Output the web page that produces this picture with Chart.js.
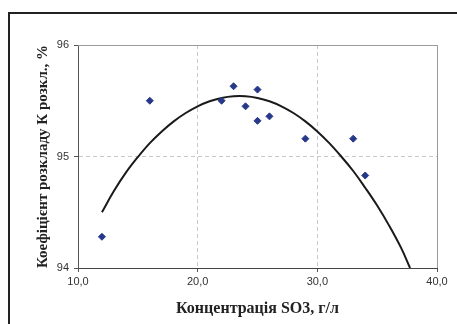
<!DOCTYPE html>
<html>
<head>
<meta charset="utf-8">
<script src="https://cdn.jsdelivr.net/npm/chart.js@4/dist/chart.umd.min.js"></script>
<style>
  html, body { margin: 0; padding: 0; background: #fff; }
  #wrap { position: relative; width: 457px; height: 324px; overflow: hidden; }
  #frame {
    position: absolute; left: 8px; top: 12px; width: 600px; height: 400px;
    border-left: 2px solid #222; border-top: 2px solid #222; pointer-events: none;
  }
  canvas { position: absolute; left: 0; top: 0; }
</style>
</head>
<body>
<div id="wrap">
  <canvas id="chart" width="457" height="324"></canvas>
  <div id="frame"></div>
</div>
<script>
// measured points
const concX = [12, 16, 22, 23, 24, 25, 25, 26, 29, 33, 34];
const coefY = [94.28, 95.50, 95.50, 95.63, 95.45, 95.60, 95.32, 95.36, 95.16, 95.16, 94.83];

// trend line
const trendX = [12, 13, 14, 15, 16, 17, 18, 19, 20, 21, 22, 23, 24, 25, 26, 27, 28, 29, 30, 31, 32, 33, 34, 35, 36, 37, 37.75];
const trendY = [94.50, 94.69, 94.855, 94.995, 95.12, 95.225, 95.315, 95.39, 95.45, 95.495, 95.525, 95.54, 95.54, 95.525, 95.495, 95.45, 95.39, 95.315, 95.225, 95.12, 95.00, 94.87, 94.72, 94.56, 94.38, 94.18, 94.00];

const xTicks = [10, 20, 30, 40];
const yTicks = [94, 95, 96];

const labelFont = { family: 'Liberation Sans', size: 11 };
const xTitleFont = { family: 'Liberation Serif', size: 16, weight: 'bold' };
const yTitleFont = { family: 'Liberation Serif', size: 15, weight: 'bold' };

// gray frame around the plot area (top and right sides)
const plotBorder = {
  id: 'plotBorder',
  afterDatasetsDraw(chart) {
    const { ctx, chartArea: a } = chart;
    ctx.save();
    ctx.strokeStyle = '#9a9a9a';
    ctx.lineWidth = 1;
    ctx.beginPath();
    ctx.moveTo(a.left, a.top + 0.5);
    ctx.lineTo(a.right + 0.5, a.top + 0.5);
    ctx.lineTo(a.right + 0.5, a.bottom);
    ctx.stroke();
    ctx.restore();
  }
};

const ctx = document.getElementById('chart').getContext('2d');

new Chart(ctx, {
  type: 'scatter',
  data: {
    datasets: [
      {
        label: 'trend',
        data: trendX.map((x, i) => ({ x: x, y: trendY[i] })),
        showLine: true,
        borderColor: '#1a1a1a',
        borderWidth: 2,
        pointRadius: 0,
        tension: 0.4,
        order: 2
      },
      {
        label: 'K',
        data: concX.map((x, i) => ({ x: x, y: coefY[i] })),
        pointStyle: 'rectRot',
        pointRadius: 3.5,
        backgroundColor: '#26388a',
        borderColor: '#26388a',
        borderWidth: 1,
        order: 1
      }
    ]
  },
  options: {
    responsive: false,
    animation: false,
    layout: { padding: { left: 26, top: 45, right: 20, bottom: 0 } },
    plugins: {
      legend: { display: false },
      tooltip: { enabled: false }
    },
    scales: {
      x: {
        type: 'linear',
        min: 10,
        max: 40,
        afterBuildTicks: (scale) => { scale.ticks = xTicks.map(v => ({ value: v })); },
        afterFit: (scale) => { scale.height = 56; },
        ticks: {
          color: '#333',
          font: labelFont,
          padding: 3,
          callback: (v) => v.toFixed(1).replace('.', ',')
        },
        grid: {
          color: '#c8c8c8',
          tickColor: '#555',
          tickBorderDash: [],
          tickLength: 4
        },
        border: { color: '#444', width: 1, dash: [4, 3] },
        title: {
          display: true,
          text: 'Концентрація SO3, г/л',
          color: '#222',
          font: xTitleFont,
          padding: { top: 0, bottom: 6 }
        }
      },
      y: {
        min: 94,
        max: 96,
        afterBuildTicks: (scale) => { scale.ticks = yTicks.map(v => ({ value: v })); },
        afterFit: (scale) => { scale.width = 52; },
        ticks: {
          color: '#333',
          font: labelFont,
          padding: 5
        },
        grid: {
          color: '#c8c8c8',
          tickColor: '#555',
          tickBorderDash: [],
          tickLength: 4
        },
        border: { color: '#555', width: 1, dash: [4, 3] },
        title: {
          display: true,
          text: 'Коефіцієнт розкладу К розкл., %',
          color: '#222',
          font: yTitleFont,
          padding: { top: 8, bottom: 0 }
        }
      }
    }
  },
  plugins: [plotBorder]
});
</script>
</body>
</html>
